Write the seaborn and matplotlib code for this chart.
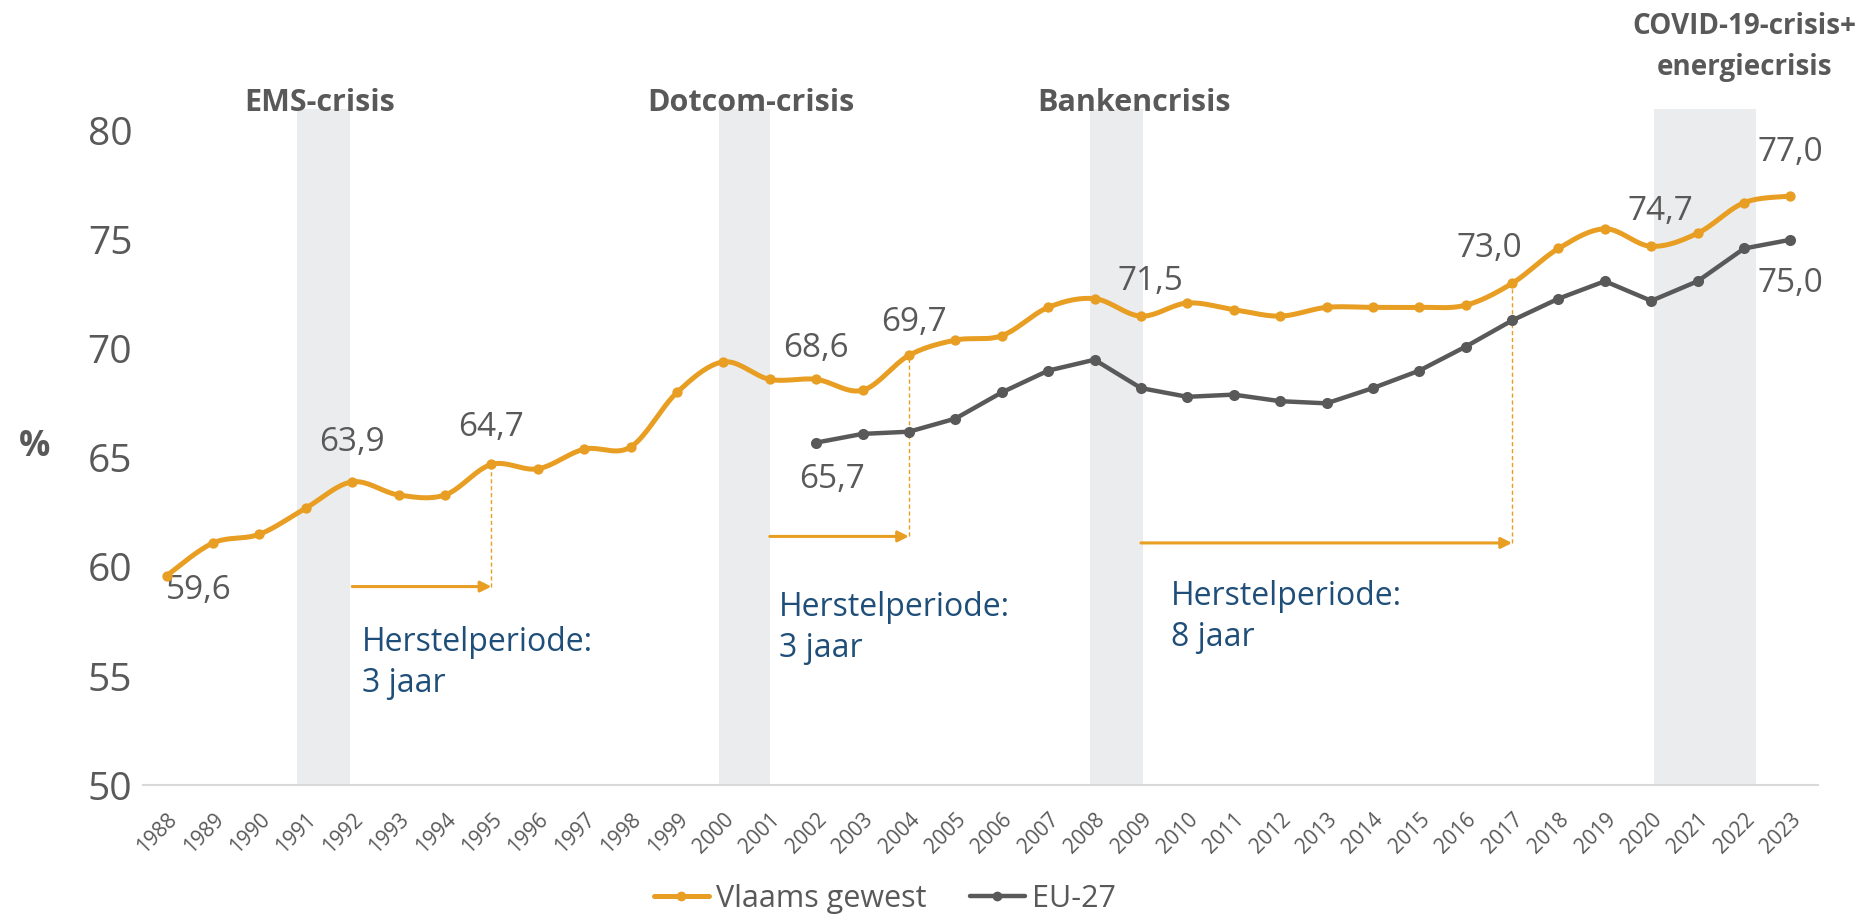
import numpy as np
import pandas as pd
import matplotlib
matplotlib.use("Agg")
import matplotlib.pyplot as plt
from matplotlib.lines import Line2D
import seaborn as sns

# data
years = list(range(1988, 2024))
vlaams = [59.6, 61.1, 61.5, 62.7, 63.9, 63.3, 63.3, 64.7, 64.5, 65.4, 65.5, 68.0,
          69.4, 68.6, 68.6, 68.1, 69.7, 70.4, 70.6, 71.9, 72.3, 71.5, 72.1, 71.8,
          71.5, 71.9, 71.9, 71.9, 72.0, 73.0, 74.6, 75.5, 74.7, 75.3, 76.7, 77.0]
eu_years = list(range(2002, 2024))
eu27 = [65.7, 66.1, 66.2, 66.8, 68.0, 69.0, 69.5, 68.2, 67.8, 67.9, 67.6, 67.5,
        68.2, 69.0, 70.1, 71.3, 72.3, 73.1, 72.2, 73.1, 74.6, 75.0]

crisis_names = ["EMS-crisis", "Dotcom-crisis", "Bankencrisis", "COVID-19-crisis+\nenergiecrisis"]
crisis_start = [1990.8, 1999.9, 2007.9, 2020.05]
crisis_end = [1991.95, 2001.0, 2009.05, 2022.25]

# herstelperiodes: start year, end year
rec_start = [1992, 2001, 2009]
rec_end = [1995, 2004, 2017]
rec_text = ["Herstelperiode:\n3 jaar", "Herstelperiode:\n3 jaar", "Herstelperiode:\n8 jaar"]

ORANGE = "#E89E22"
GREY = "#595959"
BLUE = "#1F4E79"

df_vl = pd.DataFrame({"jaar": years, "waarde": vlaams})
df_eu = pd.DataFrame({"jaar": eu_years, "waarde": eu27})


def smooth(x, y, n=20):
    # catmull-rom style curve through the points (like Excel "smoothed line")
    x = np.asarray(x, float)
    y = np.asarray(y, float)
    px = np.concatenate([[x[0]], x, [x[-1]]])
    py = np.concatenate([[y[0]], y, [y[-1]]])
    xs, ys = [], []
    for i in range(1, len(px) - 2):
        t = np.linspace(0, 1, n, endpoint=False)
        for arr, out in ((px, xs), (py, ys)):
            p0, p1, p2, p3 = arr[i - 1], arr[i], arr[i + 1], arr[i + 2]
            out.extend(0.5 * ((2 * p1) + (-p0 + p2) * t + (2 * p0 - 5 * p1 + 4 * p2 - p3) * t ** 2
                              + (-p0 + 3 * p1 - 3 * p2 + p3) * t ** 3))
    xs.append(x[-1])
    ys.append(y[-1])
    return np.array(xs), np.array(ys)


sns.set_theme(style="white")
plt.rcParams["font.family"] = ["Open Sans", "DejaVu Sans"]

fig = plt.figure(figsize=(18.63, 9.15), dpi=100)
ax = fig.add_axes([0.077, 0.142, 0.899, 0.739])

# crisis bands
for s, e in zip(crisis_start, crisis_end):
    ax.axvspan(s, e, color="#EBECEE", lw=0, zorder=0)

# Vlaams gewest: smoothed line + markers
sx, sy = smooth(df_vl["jaar"], df_vl["waarde"])
ax.plot(sx, sy, color=ORANGE, lw=3.6, zorder=3, solid_capstyle="round")
sns.scatterplot(data=df_vl, x="jaar", y="waarde", color=ORANGE, s=55, edgecolor=ORANGE,
                linewidth=0, zorder=4, ax=ax, legend=False)

# EU-27
sns.lineplot(data=df_eu, x="jaar", y="waarde", color=GREY, lw=3.2, marker="o",
             markersize=8, markeredgewidth=0, zorder=3, ax=ax, legend=False)

# recovery arrows and dashed drop lines
vl_lookup = dict(zip(years, vlaams))
arrow_y = [59.1, 61.4, 61.1]
for s, e, ay in zip(rec_start, rec_end, arrow_y):
    ax.annotate("", xy=(e, ay), xytext=(s, ay),
                arrowprops=dict(arrowstyle="-|>", color=ORANGE, lw=2.2, mutation_scale=16,
                                shrinkA=0, shrinkB=0), zorder=2)
    ax.plot([e, e], [ay, vl_lookup[e]], color=ORANGE, lw=1, ls=(0, (3, 2)), zorder=2)

text_pos = [(1992.2, 55.6), (2001.2, 57.2), (2009.65, 57.7)]
for (tx, ty), t in zip(text_pos, rec_text):
    ax.text(tx, ty, t, color=BLUE, fontsize=23, ha="left", va="center", linespacing=1.35)

# data labels
labels = [(1988.7, 58.9, "59,6"), (1992.0, 65.7, "63,9"), (1995.0, 66.4, "64,7"),
          (2002.0, 70.0, "68,6"), (2004.1, 71.2, "69,7"), (2009.2, 73.1, "71,5"),
          (2016.5, 74.6, "73,0"), (2020.2, 76.3, "74,7"), (2023.0, 79.0, "77,0"),
          (2002.35, 64.0, "65,7"), (2023.0, 73.0, "75,0")]
for lx, ly, t in labels:
    ax.text(lx, ly, t, color=GREY, fontsize=24, ha="center", va="center")

# crisis titles
title_pos = [(1991.3, 81.25), (2000.6, 81.25), (2008.85, 81.25), (2022.0, 83.85)]
title_size = [22, 22, 22, 20]
for (tx, ty), name, fs in zip(title_pos, crisis_names, title_size):
    ax.text(tx, ty, name, color=GREY, fontsize=fs, fontweight="bold", ha="center",
            va="center", linespacing=1.55, clip_on=False)

ax.set_xlim(1987.5, 2023.6)
ax.set_ylim(50, 81)
ax.set_yticks([50, 55, 60, 65, 70, 75, 80])
ax.set_xticks(years)
ax.set_xticklabels([str(y) for y in years], rotation=45, ha="right", rotation_mode="anchor",
                   fontsize=15, color=GREY)
ax.tick_params(axis="y", labelsize=28, labelcolor=GREY, length=0, pad=8)
ax.tick_params(axis="x", length=0, pad=17)
ax.set_xlabel("")
ax.set_ylabel("%", fontsize=25, fontweight="bold", color=GREY, rotation=0, va="center")
ax.yaxis.set_label_coords(-0.065, 0.5)

for side in ["top", "right", "left"]:
    ax.spines[side].set_visible(False)
ax.spines["bottom"].set_color("#D9D9D9")
ax.spines["bottom"].set_linewidth(1.5)
ax.grid(False)

handles = [Line2D([], [], color=ORANGE, lw=3.6, marker="o", markersize=6),
           Line2D([], [], color=GREY, lw=3.2, marker="o", markersize=6)]
fig.legend(handles, ["Vlaams gewest", "EU-27"], loc="center", bbox_to_anchor=(0.475, 0.018),
           ncol=2, frameon=False, fontsize=22, labelcolor=GREY, handlelength=1.8,
           handletextpad=0.25, columnspacing=1.4)

fig.savefig("out.png", dpi=100)
